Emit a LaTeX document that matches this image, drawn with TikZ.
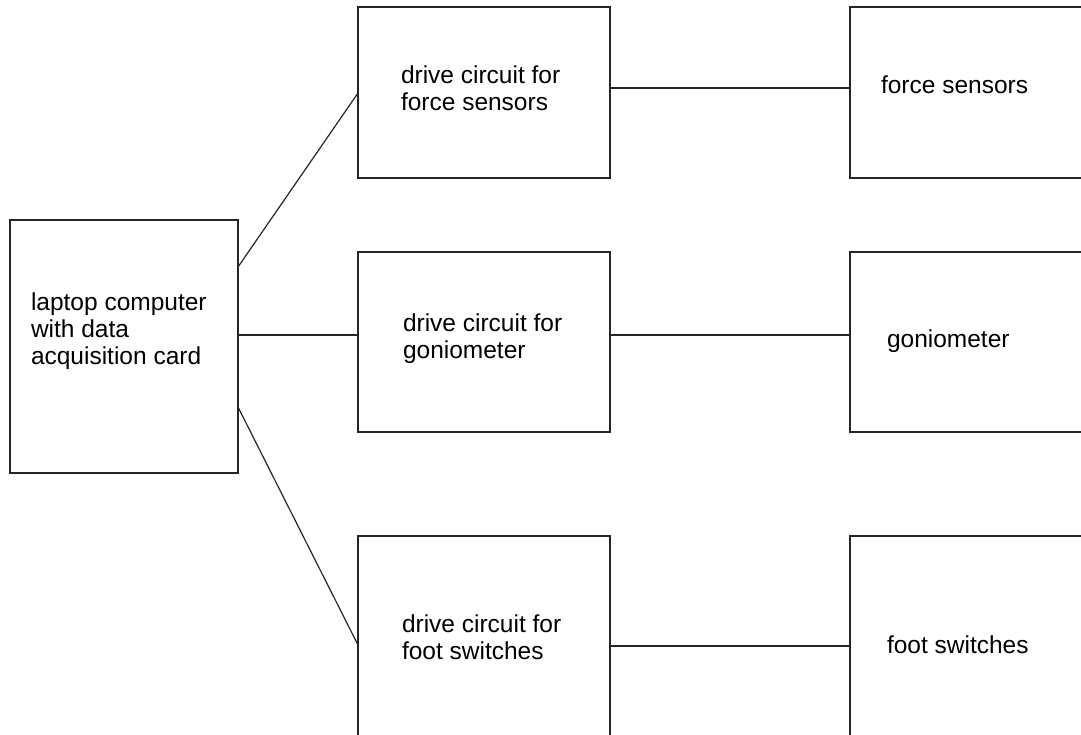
\documentclass[tikz,border=0pt]{standalone}
\usepackage{fontspec}
\setmainfont{Liberation Sans}
\usetikzlibrary{calc}
\begin{document}
\begin{tikzpicture}[x=1pt,y=-1pt,
  box/.style={draw=black!85,line width=1.3pt,rectangle,inner sep=0pt,outer sep=0pt,anchor=north west},
  lbl/.style={inner sep=0pt,outer sep=0pt,anchor=base west,align=left,font=\fontsize{24.5}{27}\selectfont},
  wire/.style={draw=black!85,line width=1.2pt}]
\useasboundingbox (0,0) rectangle (1081,734);
\clip (0,0) rectangle (1081,734);
\fill[white] (0,0) rectangle (1081,734);
% boxes
\node[box,minimum width=228pt,minimum height=253pt] (laptop) at (10,220) {};
\node[box,minimum width=252pt,minimum height=171pt] (dfs) at (358,7) {};
\node[box,minimum width=252pt,minimum height=180pt] (dgo) at (358,252) {};
\node[box,minimum width=252pt,minimum height=240pt] (dfw) at (358,536) {};
\node[box,minimum width=260pt,minimum height=171pt] (fs) at (850,7) {};
\node[box,minimum width=260pt,minimum height=180pt] (go) at (850,252) {};
\node[box,minimum width=260pt,minimum height=240pt] (fw) at (850,536) {};
% texts (base anchor = baseline of the last line)
\node[lbl] (tlaptop) at (31,364) {laptop computer\\with data\\acquisition card};
\node[lbl] (tdfs) at (401,110) {drive circuit for\\force sensors};
\node[lbl] (tdgo) at (403,358) {drive circuit for\\goniometer};
\node[lbl] (tdfw) at (402,659) {drive circuit for\\foot switches};
\node[lbl] (tfs) at (881,93) {force sensors};
\node[lbl] (tgo) at (887,347) {goniometer};
\node[lbl] (tfw) at (887,653) {foot switches};
% connectors
\draw[wire] ($(laptop.north east)+(0,47)$) -- ($(dfs.north west)+(0,86)$);
\draw[wire] ($(laptop.north east)+(0,115)$) -- ($(dgo.north west)+(0,83)$);
\draw[wire] ($(laptop.north east)+(0,187)$) -- ($(dfw.north west)+(0,109)$);
\draw[wire] ($(dfs.north east)+(0,81)$) -- ($(fs.north west)+(0,81)$);
\draw[wire] ($(dgo.north east)+(0,83)$) -- ($(go.north west)+(0,83)$);
\draw[wire] ($(dfw.north east)+(0,110)$) -- ($(fw.north west)+(0,110)$);
\end{tikzpicture}
\end{document}
